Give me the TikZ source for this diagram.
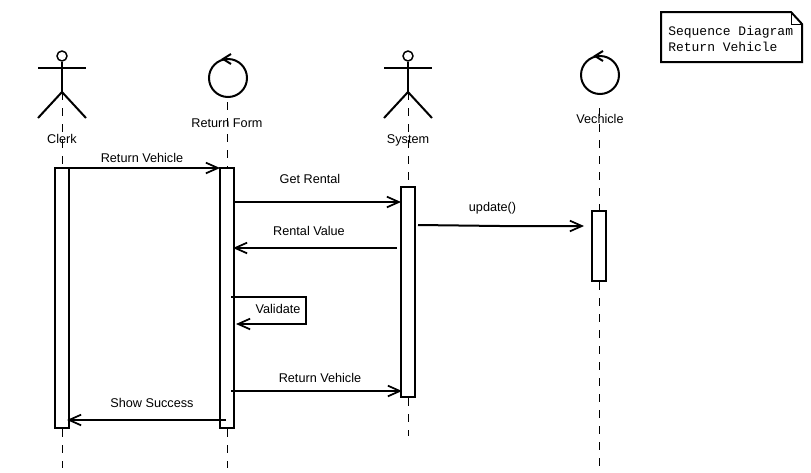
\documentclass[tikz,border=0pt]{standalone}
\usepackage{fontspec}
\setmainfont{Liberation Sans}
\setmonofont{Liberation Mono}
\usetikzlibrary{arrows.meta}

\begin{document}
\begin{tikzpicture}[
        x=0.75pt, y=-0.75pt,
        stroke/.style={line width=1.5pt},
        head/.style={circle, draw=black, line width=1.1pt, inner sep=0pt, minimum size=7.5pt},
        control/.style={circle, draw=black, stroke, inner sep=0pt, minimum size=28.5pt},
        bar/.style={rectangle, draw=black, stroke, fill=white, inner sep=0pt, minimum width=10.5pt},
        lifeline/.style={draw=black, line width=0.75pt, dash pattern=on 6pt off 6pt},
        label/.style={font=\fontsize{9.5}{11}\selectfont, inner sep=0pt, anchor=base},
        arrow/.style={-{Straight Barb[length=9pt, width=8pt, line width=1.3pt]}, stroke, line join=miter}
    ]
        \useasboundingbox (0,0) rectangle (811,472);

        % activation bars
        \node[bar, minimum height=195pt] (clerkbar) at (62,298) {};
        \node[bar, minimum height=195pt] (formbar) at (227,298) {};
        \node[bar, minimum height=157.5pt] (systembar) at (408,292) {};
        \node[bar, minimum height=52.5pt] (vehiclebar) at (599,246) {};

        % actors
        \foreach \name/\px in {clerk/62, system/408} {
            \node[head] (\name head) at (\px,56) {};
            \coordinate (\name hip) at (\px,92);
            \coordinate (\name left) at (\px-24,68);
            \coordinate (\name right) at (\px+24,68);
            \coordinate (\name lfoot) at (\px-24,118);
            \coordinate (\name rfoot) at (\px+24,118);
            \draw[stroke] (\name head) -- (\name hip);
            \draw[stroke] (\name left) -- (\name right);
            \draw[stroke] (\name lfoot) -- (\name hip) -- (\name rfoot);
        }

        % control objects
        \node[control] (formobj) at (228,78) {};
        \node[control] (vehicleobj) at (600,75) {};
        \foreach \name in {formobj, vehicleobj} {
            \draw[stroke] ([shift={(3,-4)}]\name.north) -- ([shift={(-5,1)}]\name.north) -- ([shift={(3,6)}]\name.north);
        }

        % lifelines
        \coordinate (clerkend) at (62,468);
        \coordinate (formend) at (227,468);
        \coordinate (systemend) at (408,436);
        \coordinate (vehicleend) at (599,468);
        \draw[lifeline] (clerkhip) -- (clerkbar.north);
        \draw[lifeline] (clerkbar.south) -- (clerkend);
        \draw[lifeline, shorten <=3pt] (formobj.south -| formbar.north) -- (formbar.north);
        \draw[lifeline] (formbar.south) -- (formend);
        \draw[lifeline] (systemhip) -- (systembar.north);
        \draw[lifeline] (systembar.south) -- (systemend);
        \draw[lifeline, shorten <=10pt] (vehicleobj.south -| vehiclebar.north) -- (vehiclebar.north);
        \draw[lifeline] (vehiclebar.south) -- (vehicleend);

        % names
        \node[label] (clerkname) at (62,143) {Clerk};
        \node[label] (formname) at (227,127) {Return Form};
        \node[label] (systemname) at (408,143) {System};
        \node[label] (vehiclename) at (600,123) {Vechicle};

        % message ends
        \coordinate (m1a) at (69,168);
        \coordinate (m1b) at (220,168);
        \coordinate (m2a) at (234,202);
        \coordinate (m2b) at (401,202);
        \coordinate (m3a) at (397,248);
        \coordinate (m3b) at (233,248);
        \coordinate (m4a) at (418,225);
        \coordinate (m4k) at (500,226);
        \coordinate (m4b) at (584,226);
        \coordinate (m5a) at (231,297);
        \coordinate (m5k) at (306,297);
        \coordinate (m5l) at (306,324);
        \coordinate (m5b) at (236,324);
        \coordinate (m6a) at (231,391);
        \coordinate (m6b) at (402,391);
        \coordinate (m7a) at (226,420);
        \coordinate (m7b) at (67,420);

        % messages
        \draw[arrow] (m1a) -- (m1b);
        \draw[arrow] (m2a) -- (m2b);
        \draw[arrow] (m3a) -- (m3b);
        \draw[arrow] (m4a) -- (m4k) -- (m4b);
        \draw[arrow] (m5a) -- (m5k) -- (m5l) -- (m5b);
        \draw[arrow] (m6a) -- (m6b);
        \draw[arrow] (m7a) -- (m7b);

        \node[label] (m1label) at (142,162) {Return Vehicle};
        \node[label] (m2label) at (310,183) {Get Rental};
        \node[label] (m3label) at (309,235) {Rental Value};
        \node[label] (m4label) at (492.5,211) {update()};
        \node[label] (m5label) at (278,313) {Validate};
        \node[label] (m6label) at (320,382) {Return Vehicle};
        \node[label] (m7label) at (152,407) {Show Success};

        % note
        \coordinate (noteA) at (661,12);
        \coordinate (noteB) at (791,12);
        \coordinate (noteC) at (802,24);
        \coordinate (noteD) at (802,62);
        \coordinate (noteE) at (661,62);
        \coordinate (noteF) at (791,24);
        \draw[stroke] (noteA) -- (noteB) -- (noteC) -- (noteD) -- (noteE) -- cycle;
        \draw[line width=0.75pt] (noteB) -- (noteF) -- (noteC);
        \node[font=\ttfamily\fontsize{9.75}{12}\selectfont, align=left, anchor=north west, inner sep=0pt] (notetext) at (668,25.5) {Sequence Diagram\\Return Vehicle};
    \end{tikzpicture}
\end{document}
